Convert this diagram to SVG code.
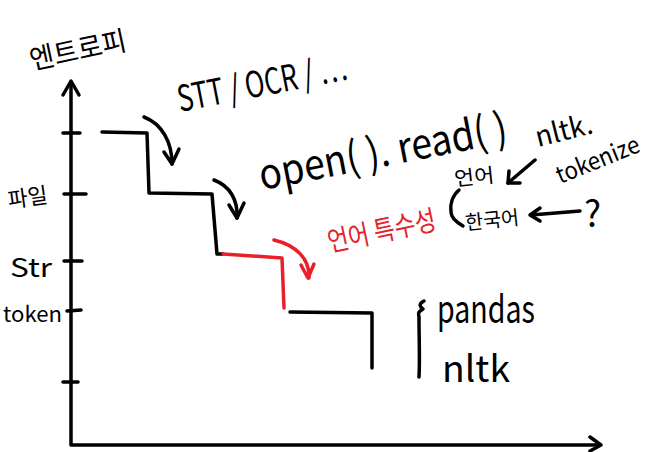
<svg xmlns="http://www.w3.org/2000/svg" width="650" height="452" viewBox="0 0 650 452">
<defs>
<style>
.ln{fill:none;stroke:#000;stroke-width:3.5;stroke-linecap:round;stroke-linejoin:round}
.rd{fill:none;stroke:#e8202a;stroke-width:3.5;stroke-linecap:round;stroke-linejoin:round}
.t{font-family:"Noto Sans CJK KR","Noto Sans",sans-serif;fill:#000}
.tr{font-family:"Noto Sans CJK KR","Noto Sans",sans-serif;fill:#e8202a}
</style>
</defs>
<rect width="650" height="452" fill="#fff"/>
<g id="axes">
<path class="ln" d="M71 82 L71 445 L600 445"/>
<path class="ln" d="M63 95 L71 81 L79 95"/>
<path class="ln" d="M590 437 L601 445 L590 451"/>
<path class="ln" d="M63 133 L80 133 M64 194 L86 194 M64 261 L82 261 M67 311 L81 310 M63 382 L78 382"/>
</g>
<g id="labels">
<text class="t" transform="matrix(0.9781 -0.2079 0.2079 0.9781 32 70)" font-size="28" textLength="98" lengthAdjust="spacingAndGlyphs">엔트로피</text>
<text class="t" transform="matrix(0.9903 -0.1392 0.1392 0.9903 9 208)" font-size="22" textLength="40" lengthAdjust="spacingAndGlyphs">파일</text>
<text class="t" x="10" y="277" font-size="26" textLength="42" lengthAdjust="spacingAndGlyphs">Str</text>
<text class="t" x="3" y="322" font-size="21" textLength="59" lengthAdjust="spacingAndGlyphs">token</text>
</g>
<g id="staircase">
<path class="ln" d="M102 132 L147 133 L149 193 L212 194 L217 254 L223 254"/>
<path class="rd" d="M223 254 L282 258 L284 308"/>
<path class="ln" d="M290 312 L372 313 L372 368"/>
</g>
<g id="connectors">
<path class="ln" d="M144 117 C162 124 172 142 172 164"/>
<path class="ln" d="M164 152 L172 164 L179 149"/>
<path class="ln" d="M214 180 C230 186 238 200 237 218"/>
<path class="ln" d="M229 205 L237 218 L244 203"/>
<path class="rd" d="M274 240 C295 245 310 258 309 278"/>
<path class="rd" d="M301 265 L308 278 L314 264"/>
<path class="ln" d="M535 160 L508 183"/>
<path class="ln" d="M509 171 L508 183 L520 183"/>
<path class="ln" d="M580 211 L531 215"/>
<path class="ln" d="M540 208 L530 215 L540 221"/>
<path class="ln" d="M459 190 C452 196 450 205 451 212 C451 218 456 222 463 226"/>
<path class="ln" d="M424 301 C418 304 420 307 423 309 C418 312 418 313 419 317 C419 340 420 360 419 377"/>
</g>
<g id="annotations">
<text class="t" transform="matrix(0.9816 -0.1908 0.1908 0.9816 180 112)" font-size="36" textLength="172" lengthAdjust="spacingAndGlyphs">STT / OCR / …</text>
<text class="t" transform="matrix(0.9816 -0.1908 0.1908 0.9816 262 190)" font-size="42" textLength="252" lengthAdjust="spacingAndGlyphs">open( ). read( )</text>
<text class="tr" transform="matrix(0.9781 -0.2079 0.2079 0.9781 330 252)" font-size="28" textLength="110" lengthAdjust="spacingAndGlyphs">언어 특수성</text>
<text class="t" transform="matrix(0.9945 -0.1045 0.1045 0.9945 455 186)" font-size="20" textLength="40" lengthAdjust="spacingAndGlyphs">언어</text>
<text class="t" transform="matrix(0.9945 -0.1045 0.1045 0.9945 466 230)" font-size="20" textLength="54" lengthAdjust="spacingAndGlyphs">한국어</text>
<text class="t" transform="matrix(0.9703 -0.2419 0.2419 0.9703 538 147)" font-size="28" textLength="58" lengthAdjust="spacingAndGlyphs">nltk.</text>
<text class="t" transform="matrix(0.9272 -0.3746 0.3746 0.9272 560 184)" font-size="24" textLength="88" lengthAdjust="spacingAndGlyphs">tokenize</text>
<text class="t" x="584" y="227" font-size="36">?</text>
<text class="t" x="437" y="323" font-size="38" textLength="98" lengthAdjust="spacingAndGlyphs">pandas</text>
<text class="t" x="442" y="382" font-size="36" textLength="68" lengthAdjust="spacingAndGlyphs">nltk</text>
</g>
</svg>
